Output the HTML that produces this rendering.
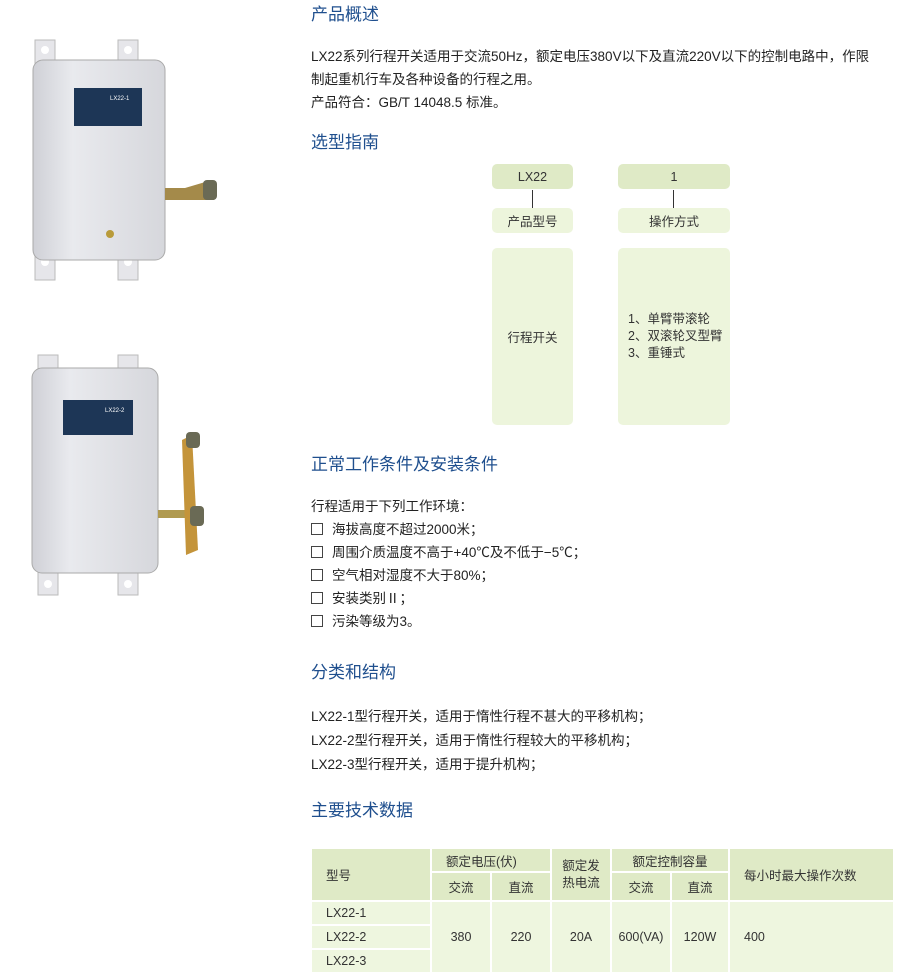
<!DOCTYPE html>
<html><head><meta charset="utf-8"><style>
body{margin:0;width:920px;height:979px;background:#fff;position:relative;overflow:hidden;font-family:"Liberation Sans","Noto Sans CJK SC",sans-serif;color:#222}
.a{position:absolute;white-space:nowrap}
.h{font-size:17px;color:#1f4f8e}
.t{font-size:13.5px;line-height:23px}
.bx{position:absolute;border-radius:5px;background:#edf5dc;font-size:12.5px;display:flex;align-items:center;justify-content:center;color:#333}
.dk{background:#dfeac6}
.ln{position:absolute;width:1px;height:18px;background:#333}
table{position:absolute;left:310px;top:847px;width:585px;border-collapse:collapse;font-size:12.5px;color:#333}
td{border:2px solid #fff;padding:0 0 0 14px;height:22px}
.th td{background:#dfeac6}
.bd td{background:#eef6df}
.c{text-align:center;padding:0}
.cb{display:inline-block;width:10px;height:10px;border:1px solid #444;margin-right:9px;vertical-align:-1px}
</style></head><body>
<svg class="a" style="left:0;top:0" width="300" height="640">
<defs><linearGradient id="g" x1="0" x2="1"><stop offset="0" stop-color="#cfd0d6"/><stop offset=".3" stop-color="#e9eaee"/><stop offset="1" stop-color="#d6d7dc"/></linearGradient></defs>
<rect x="35" y="40" width="20" height="30" fill="#e6e6ea" stroke="#bbb"/><rect x="118" y="40" width="20" height="30" fill="#e6e6ea" stroke="#bbb"/>
<circle cx="45" cy="50" r="4" fill="#fff"/><circle cx="128" cy="50" r="4" fill="#fff"/>
<rect x="35" y="250" width="20" height="30" fill="#e6e6ea" stroke="#bbb"/><rect x="118" y="250" width="20" height="30" fill="#e6e6ea" stroke="#bbb"/>
<circle cx="45" cy="262" r="4" fill="#fff"/><circle cx="128" cy="262" r="4" fill="#fff"/>
<rect x="33" y="60" width="132" height="200" rx="10" fill="url(#g)" stroke="#aaa"/>
<rect x="74" y="88" width="68" height="38" fill="#1d3656"/>
<text x="110" y="100" font-size="6" fill="#fff">LX22-1</text>
<rect x="106" y="230" width="8" height="8" rx="4" fill="#b99b3a"/>
<path d="M165 188 L185 188 L212 180 L214 200 L165 200Z" fill="#a48a4a"/>
<rect x="203" y="180" width="14" height="20" rx="4" fill="#6a6a55"/>
<rect x="38" y="355" width="20" height="28" fill="#e6e6ea" stroke="#bbb"/><rect x="118" y="355" width="20" height="28" fill="#e6e6ea" stroke="#bbb"/>
<rect x="38" y="565" width="20" height="30" fill="#e6e6ea" stroke="#bbb"/><rect x="118" y="565" width="20" height="30" fill="#e6e6ea" stroke="#bbb"/>
<circle cx="48" cy="584" r="4" fill="#fff"/><circle cx="128" cy="584" r="4" fill="#fff"/>
<rect x="32" y="368" width="126" height="205" rx="10" fill="url(#g)" stroke="#aaa"/>
<rect x="63" y="400" width="70" height="35" fill="#1d3656"/>
<text x="105" y="412" font-size="6" fill="#fff">LX22-2</text>
<rect x="158" y="510" width="40" height="8" fill="#b09a50"/>
<path d="M182 440 L192 435 L198 550 L186 555Z" fill="#c4943a"/>
<rect x="186" y="432" width="14" height="16" rx="4" fill="#6a6a55"/><rect x="190" y="506" width="14" height="20" rx="4" fill="#6a6a55"/>
</svg>

<div class="a h" style="left:311px;top:0px">产品概述</div>
<div class="a t" style="left:311px;top:45px">LX22系列行程开关适用于交流50Hz，额定电压380V以下及直流220V以下的控制电路中，作限<br>制起重机行车及各种设备的行程之用。<br>产品符合：GB/T 14048.5 标准。</div>
<div class="a h" style="left:311px;top:128px">选型指南</div>

<div class="bx dk" style="left:492px;top:164px;width:81px;height:25px">LX22</div>
<div class="bx dk" style="left:618px;top:164px;width:112px;height:25px">1</div>
<div class="ln" style="left:532px;top:190px"></div><div class="ln" style="left:673px;top:190px"></div>
<div class="bx" style="left:492px;top:208px;width:81px;height:25px">产品型号</div>
<div class="bx" style="left:618px;top:208px;width:112px;height:25px">操作方式</div>
<div class="bx" style="left:492px;top:248px;width:81px;height:177px">行程开关</div>
<div class="bx" style="left:618px;top:248px;width:112px;height:177px;justify-content:flex-start;padding-left:10px;box-sizing:border-box;line-height:17px">1、单臂带滚轮<br>2、双滚轮叉型臂<br>3、重锤式</div>

<div class="a h" style="left:311px;top:450px">正常工作条件及安装条件</div>
<div class="a t" style="left:311px;top:495px">行程适用于下列工作环境：<br><span class="cb"></span>海拔高度不超过2000米；<br><span class="cb"></span>周围介质温度不高于+40℃及不低于−5℃；<br><span class="cb"></span>空气相对湿度不大于80%；<br><span class="cb"></span>安装类别Ⅱ；<br><span class="cb"></span>污染等级为3。</div>

<div class="a h" style="left:311px;top:658px">分类和结构</div>
<div class="a t" style="left:311px;top:705px;line-height:24px">LX22-1型行程开关，适用于惰性行程不甚大的平移机构；<br>LX22-2型行程开关，适用于惰性行程较大的平移机构；<br>LX22-3型行程开关，适用于提升机构；</div>

<div class="a h" style="left:311px;top:796px">主要技术数据</div>
<table>
<colgroup><col style="width:120px"><col style="width:60px"><col style="width:60px"><col style="width:60px"><col style="width:60px"><col style="width:58px"><col></colgroup>
<tr class="th"><td rowspan="2">型号</td><td colspan="2" style="height:22px">额定电压(伏)</td><td rowspan="2" class="c" style="line-height:17px">额定发<br>热电流</td><td colspan="2" class="c">额定控制容量</td><td rowspan="2">每小时最大操作次数</td></tr>
<tr class="th"><td class="c" style="height:27px">交流</td><td class="c">直流</td><td class="c">交流</td><td class="c">直流</td></tr>
<tr class="bd"><td style="height:22px">LX22-1</td><td rowspan="3" class="c">380</td><td rowspan="3" class="c">220</td><td rowspan="3" class="c">20A</td><td rowspan="3" class="c">600(VA)</td><td rowspan="3" class="c">120W</td><td rowspan="3">400</td></tr>
<tr class="bd"><td style="height:22px">LX22-2</td></tr>
<tr class="bd"><td style="height:22px">LX22-3</td></tr>
</table>
</body></html>
